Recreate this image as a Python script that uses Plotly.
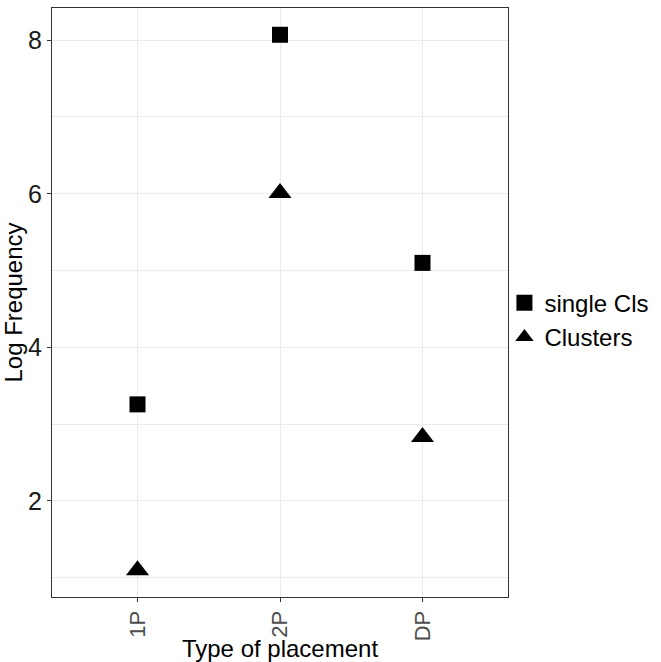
import plotly.graph_objects as go

categories = ["1P", "2P", "DP"]
single_cls = [3.258, 8.07, 5.10]
clusters = [1.0986, 6.01, 2.833]
series_names = ["single Cls", "Clusters"]
y_ticks = [2, 4, 6, 8]

FONT = "Liberation Sans, Arial, Helvetica, sans-serif"

fig = go.Figure()
fig.add_trace(go.Scatter(
    x=categories, y=single_cls, mode="markers", name=series_names[0],
    marker=dict(symbol="square", size=16, color="black", line=dict(width=0)),
))
fig.add_trace(go.Scatter(
    x=categories, y=clusters, mode="markers", name=series_names[1],
    marker=dict(symbol="triangle-up", size=20, color="black", line=dict(width=0)),
))

all_vals = single_cls + clusters
lo, hi = min(all_vals), max(all_vals)
pad = (hi - lo) * 0.05

fig.update_layout(
    width=661, height=662,
    margin=dict(l=52, r=152, t=8, b=65),
    paper_bgcolor="white", plot_bgcolor="white",
    font=dict(family=FONT, color="black"),
    showlegend=True,
    legend=dict(
        x=0.99, xanchor="left", y=0.47, yanchor="middle",
        font=dict(size=24, color="black", family=FONT),
        bgcolor="rgba(0,0,0,0)", borderwidth=0,
        tracegroupgap=0, itemwidth=30,
    ),
    xaxis=dict(
        type="category", range=[-0.6, 2.6], automargin=False,
        showline=True, mirror=True, linecolor="#333333", linewidth=1,
        showgrid=True, gridcolor="#EBEBEB", gridwidth=1,
        ticks="outside", ticklen=4, tickcolor="#333333", tickwidth=1,
        tickangle=-90,
        tickfont=dict(size=22, color="#4D4D4D", family=FONT),
        title=dict(text="Type of placement", font=dict(size=24, color="black", family=FONT), standoff=2),
        zeroline=False,
    ),
    yaxis=dict(
        range=[lo - pad, hi + pad], automargin=False,
        tickmode="array", tickvals=y_ticks, ticktext=[str(v) for v in y_ticks],
        showline=True, mirror=True, linecolor="#333333", linewidth=1,
        showgrid=True, gridcolor="#EBEBEB", gridwidth=1,
        minor=dict(tickmode="linear", tick0=1, dtick=2, showgrid=True, gridcolor="#EBEBEB", gridwidth=0.7, ticks=""),
        ticks="outside", ticklen=4, tickcolor="#333333", tickwidth=1,
        tickfont=dict(size=25, color="#1a1a1a", family=FONT),
        title=dict(text="Log Frequency", font=dict(size=24, color="black", family=FONT), standoff=0),
        zeroline=False,
    ),
)

fig.write_html("out.html")
